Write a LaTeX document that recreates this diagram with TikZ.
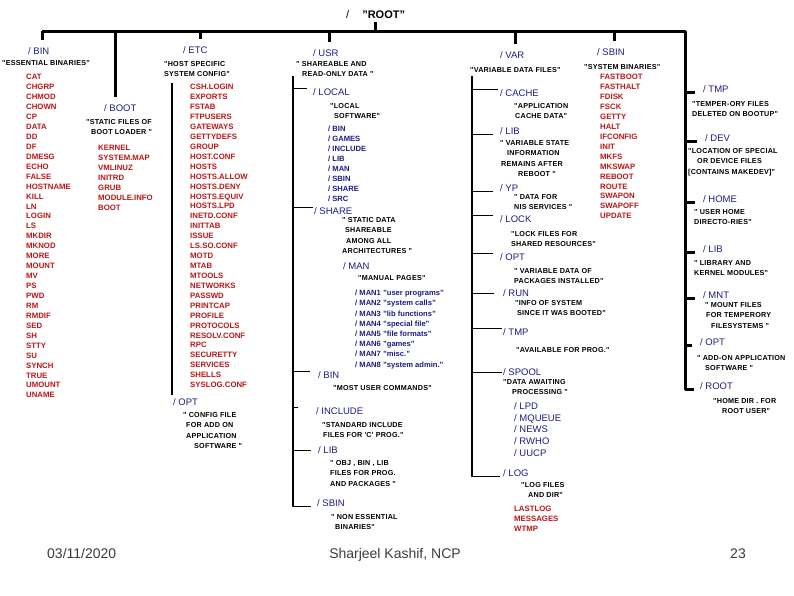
\documentclass[tikz,border=0pt]{standalone}
\usepackage{fontspec}
\setmainfont{Liberation Sans}
\newfontfamily\widefont[LetterSpace=3]{Liberation Sans}
\definecolor{dirblue}{RGB}{28,28,130}
\definecolor{filered}{RGB}{185,22,22}
\definecolor{footgray}{RGB}{60,60,60}
\tikzset{
	every node/.style={inner sep=0pt, anchor=west},
	lbl/.style={text=dirblue, font=\fontsize{9.5}{11}\selectfont, text height=6.8pt, text depth=0pt},
	sublbl/.style={text=dirblue, font=\fontsize{7.6}{9}\selectfont\bfseries, text height=5.4pt, text depth=0pt},
	fil/.style={text=filered, font=\fontsize{7.8}{9}\selectfont\bfseries, text height=5.6pt, text depth=0pt},
	dsc/.style={font=\widefont\fontsize{7.2}{10.2}\selectfont\bfseries, align=left, anchor=north west, yshift=2.6pt},
	foot/.style={text=footgray, font=\fontsize{14}{16}\selectfont, text height=10pt, text depth=0pt},
	trunk/.style={line width=3pt},
	stem/.style={line width=1.3pt},
	branch/.style={line width=1pt},
}
\begin{document}
\begin{tikzpicture}[x=1pt,y=-1pt]
	\useasboundingbox (0,0) rectangle (794,595);

	\node[font=\fontsize{11}{13}\selectfont, text height=7.8pt, text depth=0pt] (title) at (346,15) {/\hspace{13pt}\textbf{"ROOT"}};

	% top level
	\node[lbl] (bin) at (28,51) {/ BIN};
	\node[lbl] (boot) at (104,108) {/ BOOT};
	\node[lbl] (etc) at (183,50) {/ ETC};
	\node[lbl] (usr) at (313,53) {/ USR};
	\node[lbl] (var) at (500,55) {/ VAR};
	\node[lbl] (sbin) at (597,52) {/ SBIN};
	\node[lbl] (r-tmp) at (703,89) {/ TMP};
	\node[lbl] (r-dev) at (705,138) {/ DEV};
	\node[lbl] (r-home) at (703,199) {/ HOME};
	\node[lbl] (r-lib) at (703,249) {/ LIB};
	\node[lbl] (r-mnt) at (703,295) {/ MNT};
	\node[lbl] (r-opt) at (700,342) {/ OPT};
	\node[lbl] (r-root) at (700,386) {/ ROOT};

	% bus
	\coordinate (bus-w) at (42,31);
	\coordinate (bus-e) at (685,31);
	\coordinate (bus-title) at (375,31);
	\draw[trunk, line join=round] (bus-w) -- (bus-e) -- (bus-e |- r-root.south west) -- ([xshift=-6pt]r-root.south west);
	\draw[trunk, shorten >=3pt] (bus-title) -- (bus-title |- title.south);
	\foreach \d/\x in {bin/42, boot/115, etc/200, usr/329, var/515, sbin/614} {
		\coordinate (bus-\d) at (\x,31);
		\draw[trunk, shorten >=7.5pt] (bus-\d) -- (bus-\d |- \d.north);
	}
	\foreach \d in {tmp,dev,home,lib,mnt,opt}
		\draw[trunk, shorten >=8pt] (bus-e |- r-\d.south west) -- (r-\d.south west);

	% /bin
	\node[dsc] (bin-d) at (2,63) {"ESSENTIAL BINARIES"};
	\foreach \f [count=\i] in {CAT,CHGRP,CHMOD,CHOWN,CP,DATA,DD,DF,DMESG,ECHO,FALSE,HOSTNAME,KILL,LN,LOGIN,LS,MKDIR,MKNOD,MORE,MOUNT,MV,PS,PWD,RM,RMDIF,SED,SH,STTY,SU,SYNCH,TRUE,UMOUNT,UNAME}
		\node[fil] (bin-\i) at (26,{77+9.94*(\i-1)}) {\f};

	% /boot
	\node[dsc] (boot-d) at (86,122) {"STATIC FILES OF\\\hspace*{5pt}BOOT LOADER "};
	\foreach \f [count=\i] in {KERNEL,SYSTEM.MAP,VMLINUZ,INITRD,GRUB,MODULE.INFO,BOOT}
		\node[fil] (boot-\i) at (98,{148+10*(\i-1)}) {\f};

	% /etc
	\node[dsc] (etc-d) at (164,64) {"HOST SPECIFIC\\SYSTEM CONFIG"};
	\foreach \f [count=\i] in {CSH.LOGIN,EXPORTS,FSTAB,FTPUSERS,GATEWAYS,GETTYDEFS,GROUP,HOST.CONF,HOSTS,HOSTS.ALLOW,HOSTS.DENY,HOSTS.EQUIV,HOSTS.LPD,INETD.CONF,INITTAB,ISSUE,LS.SO.CONF,MOTD,MTAB,MTOOLS,NETWORKS,PASSWD,PRINTCAP,PROFILE,PROTOCOLS,RESOLV.CONF,RPC,SECURETTY,SERVICES,SHELLS,SYSLOG.CONF}
		\node[fil] (etc-\i) at (190,{87+9.93*(\i-1)}) {\f};
	\coordinate (etc-top) at (172,83);
	\node[lbl] (etc-opt) at (173,402) {/ OPT};
	\draw[stem, shorten >=3.5pt] (etc-top) -- (etc-top |- etc-opt.north);
	\node[dsc] (etc-opt-d) at (183,415) {" CONFIG FILE\\\hspace*{3pt}FOR ADD ON\\\hspace*{3pt}APPLICATION\\\hspace*{11pt}SOFTWARE "};

	% /usr
	\node[dsc] (usr-d) at (296,64) {" SHAREABLE AND\\\hspace*{6pt}READ-ONLY DATA "};
	\coordinate (usr-top) at (293,76);
	\node[lbl] (usr-local) at (313,92) {/ LOCAL};
	\node[lbl] (usr-share) at (314,211) {/ SHARE};
	\node[lbl] (usr-man) at (343,266) {/ MAN};
	\node[lbl] (usr-bin) at (318,375) {/ BIN};
	\node[lbl] (usr-include) at (316,411) {/ INCLUDE};
	\node[lbl] (usr-lib) at (318,450) {/ LIB};
	\node[lbl] (usr-sbin) at (317,503) {/ SBIN};
	\draw[stem, line join=round] (usr-top) -- (usr-top |- usr-sbin.south west) -- ([xshift=-6pt]usr-sbin.south west);
	\draw[branch, shorten >=6pt] (usr-top |- usr-local.north west) -- (usr-local.north west);
	\draw[branch, shorten >=1pt] (usr-top |- usr-share.north west) -- (usr-share.north west);
	\draw[branch, shorten >=8pt] (usr-top |- usr-bin.north west) -- (usr-bin.north west);
	\draw[branch, shorten >=18pt] (usr-top |- usr-include.north west) -- (usr-include.north west);
	\draw[branch, shorten >=7pt] (usr-top |- usr-lib.west) -- (usr-lib.west);

	\node[dsc] (usr-local-d) at (330,106) {"LOCAL\\\hspace*{4pt}SOFTWARE"};
	\foreach \f [count=\i] in {/ BIN,/ GAMES,/ INCLUDE,/ LIB,/ MAN,/ SBIN,/ SHARE,/ SRC}
		\node[sublbl] (local-\i) at (328,{129+10*(\i-1)}) {\f};
	\node[dsc] (usr-share-d) at (342,220) {" STATIC DATA\\\hspace*{3pt}SHAREABLE\\\hspace*{4pt}AMONG ALL\\ARCHITECTURES "};
	\node[dsc] (usr-man-d) at (358,278) {"MANUAL PAGES"};
	\foreach \f [count=\i] in {/ MAN1 "user programs",/ MAN2 "system calls",/ MAN3 "lib functions",/ MAN4 "special file",/ MAN5 "file formats",/ MAN6 "games",/ MAN7 "misc.",/ MAN8 "system admin."}
		\node[sublbl] (man-\i) at (355,{293+10.2*(\i-1)}) {\f};
	\node[dsc] (usr-bin-d) at (333,388) {"MOST USER COMMANDS"};
	\node[dsc] (usr-include-d) at (322,425) {"STANDARD INCLUDE\\\hspace*{1pt}FILES FOR 'C' PROG."};
	\node[dsc] (usr-lib-d) at (330,463) {" OBJ , BIN , LIB\\FILES FOR PROG.\\AND PACKAGES "};
	\node[dsc] (usr-sbin-d) at (331,517) {" NON ESSENTIAL\\\hspace*{4pt}BINARIES"};

	% /var
	\node[dsc] (var-d) at (470,70) {"VARIABLE DATA FILES"};
	\coordinate (var-top) at (472,76);
	\node[lbl] (var-cache) at (500,93) {/ CACHE};
	\node[lbl] (var-lib) at (500,131) {/ LIB};
	\node[lbl] (var-yp) at (500,188) {/ YP};
	\node[lbl] (var-lock) at (500,219) {/ LOCK};
	\node[lbl] (var-opt) at (500,257) {/ OPT};
	\node[lbl] (var-run) at (503,293) {/ RUN};
	\node[lbl] (var-tmp) at (503,332) {/ TMP};
	\node[lbl] (var-spool) at (503,372) {/ SPOOL};
	\node[lbl] (var-log) at (503,473) {/ LOG};
	\draw[stem, line join=round] (var-top) -- (var-top |- var-log.south west) -- ([xshift=-3pt]var-log.south west);
	\draw[branch, shorten >=2pt] (var-top |- var-cache.north west) -- (var-cache.north west);
	\draw[branch, shorten >=7pt] (var-top |- var-lib.south west) -- (var-lib.south west);
	\draw[branch, shorten >=7pt] (var-top |- var-yp.south west) -- (var-yp.south west);
	\draw[branch, shorten >=7pt] (var-top |- var-lock.north west) -- (var-lock.north west);
	\draw[branch, shorten >=7pt] (var-top |- var-opt.north west) -- (var-opt.north west);
	\draw[branch, shorten >=9pt] (var-top |- var-run.west) -- (var-run.west);
	\draw[branch, shorten >=1pt] (var-top |- var-tmp.north west) -- (var-tmp.north west);
	\draw[branch, shorten >=1pt] (var-top |- var-spool.west) -- (var-spool.west);

	\node[dsc] (var-cache-d) at (514,106) {"APPLICATION\\\hspace*{1pt}CACHE DATA"};
	\node[dsc] (var-lib-d) at (500,143) {" VARIABLE STATE\\\hspace*{7pt}INFORMATION\\\hspace*{1pt}REMAINS AFTER\\\hspace*{18pt}REBOOT "};
	\node[dsc] (var-yp-d) at (514,197) {" DATA FOR\\NIS SERVICES "};
	\node[dsc] (var-lock-d) at (511,234) {"LOCK FILES FOR\\SHARED RESOURCES"};
	\node[dsc] (var-opt-d) at (514,271) {" VARIABLE DATA OF\\PACKAGES INSTALLED"};
	\node[dsc] (var-run-d) at (515,303) {"INFO OF SYSTEM\\\hspace*{2pt}SINCE IT WAS BOOTED"};
	\node[dsc] (var-tmp-d) at (516,350) {"AVAILABLE FOR PROG."};
	\node[dsc] (var-spool-d) at (503,382) {"DATA AWAITING\\\hspace*{9pt}PROCESSING "};
	\foreach \f [count=\i] in {/ LPD,/ MQUEUE,/ NEWS,/ RWHO,/ UUCP}
		\node[lbl] (spool-\i) at (514,{406+11.75*(\i-1)}) {\f};
	\node[dsc] (var-log-d) at (521,485) {"LOG FILES\\\hspace*{7pt}AND DIR"};
	\foreach \f [count=\i] in {LASTLOG,MESSAGES,WTMP}
		\node[fil] (log-\i) at (514,{509+10*(\i-1)}) {\f};

	% /sbin
	\node[dsc] (sbin-d) at (584,67) {"SYSTEM BINARIES"};
	\foreach \f [count=\i] in {FASTBOOT,FASTHALT,FDISK,FSCK,GETTY,HALT,IFCONFIG,INIT,MKFS,MKSWAP,REBOOT,ROUTE,SWAPON,SWAPOFF,UPDATE}
		\node[fil] (sbin-\i) at (600,{77+9.93*(\i-1)}) {\f};

	% right hand side
	\node[dsc] (r-tmp-d) at (692,104) {"TEMPER-ORY FILES\\DELETED ON BOOTUP"};
	\node[dsc] (r-dev-d) at (688,151) {"LOCATION OF SPECIAL\\\hspace*{9pt}OR DEVICE FILES\\{[}CONTAINS MAKEDEV{]}"};
	\node[dsc] (r-home-d) at (694,212) {" USER HOME\\DIRECTO-RIES"};
	\node[dsc] (r-lib-d) at (694,263) {" LIBRARY AND\\KERNEL MODULES"};
	\node[dsc] (r-mnt-d) at (705,305) {" MOUNT FILES\\\hspace*{1pt}FOR TEMPERORY\\\hspace*{6pt}FILESYSTEMS "};
	\node[dsc] (r-opt-d) at (697,358) {" ADD-ON APPLICATION\\\hspace*{8pt}SOFTWARE "};
	\node[dsc] (r-root-d) at (713,401) {"HOME DIR . FOR\\\hspace*{9pt}ROOT USER"};

	% footer
	\node[foot] (date) at (47,553) {03/11/2020};
	\node[foot, anchor=center] (author) at (395,553) {Sharjeel Kashif, NCP};
	\node[foot, anchor=east] (page) at (746,553) {23};
\end{tikzpicture}
\end{document}
